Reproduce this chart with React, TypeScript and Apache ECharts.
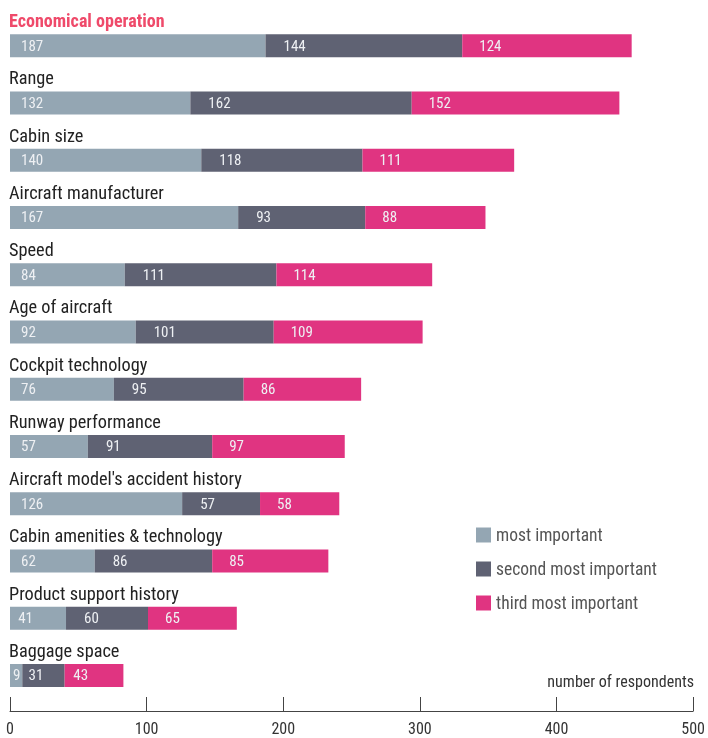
import React, { useEffect, useRef } from "react";
import * as echarts from "echarts";

const categories = [
  "Economical operation",
  "Range",
  "Cabin size",
  "Aircraft manufacturer",
  "Speed",
  "Age of aircraft",
  "Cockpit technology",
  "Runway performance",
  "Aircraft model's accident history",
  "Cabin amenities & technology",
  "Product support history",
  "Baggage space",
];
const mostImportant = [187, 132, 140, 167, 84, 92, 76, 57, 126, 62, 41, 9];
const secondMostImportant = [144, 162, 118, 93, 111, 101, 95, 91, 57, 86, 60, 31];
const thirdMostImportant = [124, 152, 111, 88, 114, 109, 86, 97, 58, 85, 65, 43];
const seriesNames = ["most important", "second most important", "third most important"];
const xTicks = [0, 100, 200, 300, 400, 500];

const FONT = "'Roboto Condensed', 'Liberation Sans Narrow', 'DejaVu Sans Condensed', Roboto, sans-serif";
const COLORS = ["#94a6b3", "#5f6273", "#e03481"];
const LABEL_INSET = [11, 18, 17];

export default function App() {
  const ref = useRef<HTMLDivElement>(null);
  useEffect(() => {
    document.body.style.margin = "0";
    const chart = echarts.init(ref.current!, null, { renderer: "svg" });
    const values = [mostImportant, secondMostImportant, thirdMostImportant];
    chart.setOption({
      animation: false,
      textStyle: { fontFamily: FONT },
      color: COLORS,
      grid: { left: 10, right: 12, top: 17, bottom: 34, containLabel: false },
      legend: {
        orient: "vertical",
        left: 476,
        top: 526,
        padding: 0,
        itemWidth: 15,
        itemHeight: 15,
        itemGap: 16,
        icon: "rect",
        textStyle: { fontSize: 17.5, color: "#555", fontFamily: FONT },
        data: seriesNames,
      },
      xAxis: {
        type: "value",
        min: xTicks[0],
        max: xTicks[xTicks.length - 1],
        interval: 100,
        offset: 7,
        splitLine: { show: false },
        axisLine: { show: true, lineStyle: { color: "#444", width: 1 } },
        axisTick: { show: true, inside: true, length: 14, lineStyle: { color: "#444" } },
        axisLabel: { fontSize: 16, color: "#333", margin: 9, fontFamily: FONT },
      },
      yAxis: {
        type: "category",
        inverse: true,
        data: categories,
        axisLine: { show: false },
        axisTick: { show: false },
        splitLine: { show: false },
        axisLabel: {
          inside: true,
          margin: -1,
          align: "left",
          verticalAlign: "bottom",
          padding: [0, 0, 15, 0],
          lineHeight: 20,
          fontSize: 18,
          fontFamily: FONT,
          formatter: (v: string, i: number) => (i === 0 ? `{h|${v}}` : `{n|${v}}`),
          rich: {
            h: { fontSize: 18, fontWeight: "bold", color: "#ef4a6a", fontFamily: FONT, lineHeight: 20 },
            n: { fontSize: 18.3, color: "#222", fontFamily: FONT, lineHeight: 20 },
          },
        },
      },
      graphic: [
        {
          type: "text",
          right: 14,
          top: 673,
          style: { text: "number of respondents", fontSize: 16, fill: "#333", fontFamily: FONT },
        },
      ],
      series: seriesNames.map((name, k) => ({
        name,
        type: "bar",
        stack: "total",
        barWidth: 23,
        data: values[k].map((v) => ({
          value: v,
          label: { distance: v < 50 ? Math.max(3, v * 0.2) : LABEL_INSET[k] },
        })),
        label: {
          show: true,
          position: "insideLeft",
          distance: LABEL_INSET[k],
          fontSize: 15,
          color: "#eef0f3",
          fontFamily: FONT,
        },
      })),
    });
    return () => chart.dispose();
  }, []);
  return <div ref={ref} style={{ position: "fixed", left: 0, top: 0, width: 708, height: 738 }} />;
}
